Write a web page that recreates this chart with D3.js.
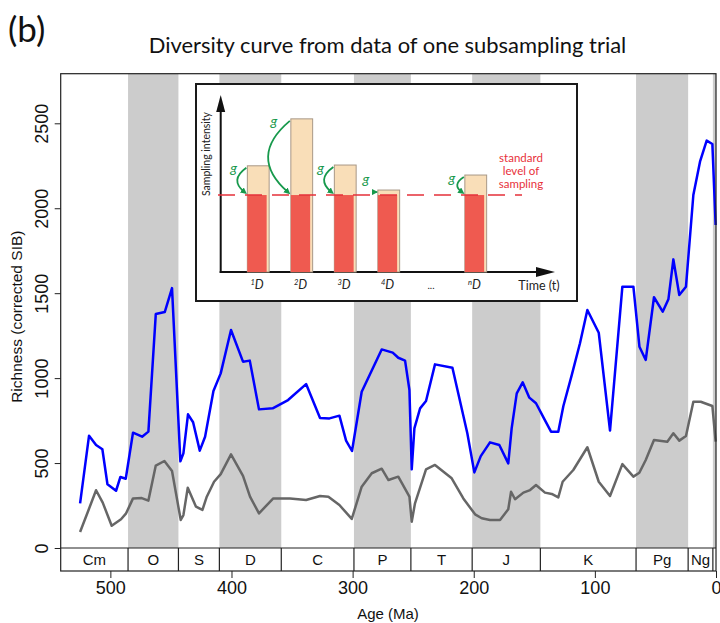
<!DOCTYPE html>
<html>
<head>
<meta charset="utf-8">
<script src="https://cdn.jsdelivr.net/npm/d3@7"></script>
<style>
  body { margin: 0; background: #fff; }
</style>
</head>
<body>
<div id="chart"></div>
<script>
// blue curve: richness from one subsampling trial (age in Ma, corrected SIB)
const trialAges = [525, 517.6, 511.8, 506.6, 502.4, 495.3, 491.7, 487.3, 481.3, 473.8, 468.6, 462.5, 455.1, 449.1,
    442.2, 439.7, 435.9, 431.7, 426.2, 421.8, 414.9, 408.9, 400.4, 390.5, 384.9, 377.3, 366, 353.3, 338.4, 326.9,
    319.1, 310.9, 305.4, 300.5, 292.5, 276, 266.9, 262.3, 256.7, 253.1, 251.2, 249, 244.3, 239.4, 232, 217.6, 205.3,
    199.5, 194.2, 186.6, 178.9, 171.5, 168.7, 164.5, 159.6, 154.1, 148.6, 141.7, 136.2, 130.2, 126, 119.1, 112.3,
    106.2, 96.8, 87.5, 77.3, 68.2, 63.2, 58, 51.2, 44, 39.3, 35.2, 30.3, 24.8, 18.7, 13.2, 7.7, 3, 0.3];
const trialRichness = [263, 661, 606, 581, 375, 337, 418, 408, 679, 655, 685, 1377, 1389, 1530,
    510, 557, 787, 740, 573, 655, 924, 1028, 1283, 1097, 1103, 816, 822, 871, 965, 765,
    763, 779, 632, 571, 920, 1169, 1150, 1120, 1103, 930, 463, 704, 822, 865, 1081, 1061, 675,
    445, 541, 622, 606, 498, 704, 910, 975, 885, 852, 759, 685, 685, 836, 1018, 1205,
    1401, 1267, 691, 1538, 1538, 1185, 1107, 1476, 1391, 1464, 1699, 1489, 1538, 2078, 2274, 2398, 2378, 1901];

// grey curve
const greyAges = [525, 518, 511.8, 506.3, 498.9, 491.2, 487, 481.3, 474.1, 468.6, 462.5, 455.4, 449.1, 441.9,
    439.7, 436.1, 429.3, 424, 420.4, 414.4, 408.9, 400.4, 390.5, 384.7, 377.3, 365.5, 351.7, 338.4, 326.9, 320,
    310.9, 300.7, 292.5, 284.2, 276, 270.4, 262.3, 253.1, 251.2, 248.5, 239.4, 232, 218.2, 208.6, 198.9, 193.4,
    186.6, 178.3, 171.5, 169.2, 165.9, 159, 153.5, 148.6, 141.2, 135.6, 130.2, 126.6, 117.8, 106.2, 96.8, 87.5,
    77.3, 68.2, 63.3, 58, 51.2, 40.2, 35.2, 30.3, 24.8, 18.7, 12.6, 3, 0.3];
const greyRichness = [94, 224, 340, 267, 131, 169, 204, 292, 294, 279, 485, 512, 453, 165,
    194, 355, 243, 224, 302, 390, 435, 551, 424, 302, 204, 292, 292, 283, 306, 302,
    253, 171, 361, 440, 467, 400, 420, 302, 155, 263, 463, 489, 410, 292, 198, 175,
    165, 165, 228, 331, 287, 326, 341, 371, 326, 318, 298, 390, 459, 593, 390, 306,
    494, 420, 443, 518, 636, 626, 675, 632, 659, 861, 861, 836, 626];

// geological periods (boundaries in Ma, as drawn)
const periodNames = ["Cm", "O", "S", "D", "C", "P", "T", "J", "K", "Pg", "Ng", ""];
const periodBounds = [541, 485.4, 443.8, 410, 358.9, 298.9, 251.9, 201.3, 145, 66, 23, 2.58, 0];

const yTicks = [0, 500, 1000, 1500, 2000, 2500];
const xTicks = [500, 400, 300, 200, 100, 0];

// inset: sampling intensity per time bin, relative to the standard level
const insetSlots = ["1", "2", "3", "4", "...", "n"];
const insetSampling = [1.38, 1.99, 1.39, 1.065, null, 1.26];
const standardLevel = 1;

const width = 720, height = 623;
const rFont = "'Liberation Sans', Arial, sans-serif";
const mFont = "Lato, 'Open Sans', sans-serif";

const svg = d3.select("#chart").append("svg")
    .attr("width", width)
    .attr("height", height)
    .style("font-family", rFont);

const plot = { left: 60.7, right: 716, top: 73.7, zero: 548, bottom: 571 };

const x = d3.scaleLinear().domain([541, 0]).range([plot.left, plot.right]);
const y = d3.scaleLinear().domain([0, 2500]).range([plot.zero, 123.3]);

const periods = periodNames.map((name, i) => ({ name, start: periodBounds[i], end: periodBounds[i + 1], i }));

//shaded bands for every second period
svg.append("g")
    .selectAll("rect")
    .data(periods.filter(d => d.i % 2 === 1))
    .join("rect")
    .attr("x", d => x(d.start))
    .attr("y", plot.top)
    .attr("width", d => x(d.end) - x(d.start))
    .attr("height", plot.zero - plot.top)
    .attr("fill", "#cccccc");

//curves
const line = d3.line().x(d => x(d[0])).y(d => y(d[1]));

svg.append("path")
    .datum(greyAges.map((a, i) => [a, greyRichness[i]]))
    .attr("d", line)
    .attr("fill", "none")
    .attr("stroke", "#666666")
    .attr("stroke-width", 2.5)
    .attr("stroke-linejoin", "round");

svg.append("path")
    .datum(trialAges.map((a, i) => [a, trialRichness[i]]))
    .attr("d", line)
    .attr("fill", "none")
    .attr("stroke", "#0000ff")
    .attr("stroke-width", 2.5)
    .attr("stroke-linejoin", "round");

//frame and period bar
svg.append("rect")
    .attr("x", plot.left)
    .attr("y", plot.top)
    .attr("width", plot.right - plot.left)
    .attr("height", plot.bottom - plot.top)
    .attr("fill", "none")
    .attr("stroke", "#222")
    .attr("stroke-width", 1.2);

svg.append("line")
    .attr("x1", plot.left).attr("x2", plot.right)
    .attr("y1", plot.zero).attr("y2", plot.zero)
    .attr("stroke", "#222").attr("stroke-width", 1.2);

const periodBar = svg.append("g");
periodBar.selectAll("line")
    .data(periodBounds.slice(1, -1))
    .join("line")
    .attr("x1", d => x(d)).attr("x2", d => x(d))
    .attr("y1", plot.zero).attr("y2", plot.bottom)
    .attr("stroke", "#222").attr("stroke-width", 1.2);

periodBar.selectAll("text")
    .data(periods.filter(d => d.name))
    .join("text")
    .attr("x", d => (x(d.start) + x(d.end)) / 2)
    .attr("y", (plot.zero + plot.bottom) / 2)
    .attr("dy", "0.36em")
    .attr("text-anchor", "middle")
    .attr("font-size", 15)
    .attr("fill", "#111")
    .text(d => d.name);

//axes
const yAxis = svg.append("g")
    .attr("transform", `translate(${plot.left},0)`)
    .call(d3.axisLeft(y).tickValues(yTicks).tickSize(6).tickFormat(d3.format("d")));
yAxis.select(".domain").remove();
yAxis.selectAll("line").attr("stroke", "#222");
yAxis.selectAll("text")
    .attr("x", null)
    .attr("dy", "0.36em")
    .attr("transform", `translate(${41.7 - plot.left},0) rotate(-90)`)
    .attr("text-anchor", "middle")
    .attr("font-size", 18)
    .attr("font-family", rFont)
    .attr("fill", "#111");

const xAxis = svg.append("g")
    .attr("transform", `translate(0,${plot.bottom})`)
    .call(d3.axisBottom(x).tickValues(xTicks).tickSize(7).tickFormat(d3.format("d")));
xAxis.select(".domain").remove();
xAxis.selectAll("line").attr("stroke", "#222");
xAxis.selectAll("text")
    .attr("font-size", 18)
    .attr("font-family", rFont)
    .attr("fill", "#111");

svg.append("text")
    .attr("x", 388)
    .attr("y", 619)
    .attr("text-anchor", "middle")
    .attr("font-size", 15)
    .attr("fill", "#111")
    .text("Age (Ma)");

svg.append("text")
    .attr("transform", "translate(16,316.7) rotate(-90)")
    .attr("dy", "0.36em")
    .attr("text-anchor", "middle")
    .attr("font-size", 15.5)
    .attr("fill", "#111")
    .text("Richness (corrected SIB)");

//title and panel letter
const title = svg.append("text")
    .attr("x", 387.5)
    .attr("y", 53)
    .attr("text-anchor", "middle")
    .attr("font-family", mFont)
    .attr("font-size", 20)
    .attr("fill", "#111")
    .text("Diversity curve from data of one subsampling trial");
let tw = title.node().getComputedTextLength();
title.attr("font-size", 20 * 478 / tw);

svg.append("text")
    .attr("x", 8)
    .attr("y", 42)
    .attr("font-family", mFont)
    .attr("font-size", 35)
    .attr("fill", "#111")
    .text("(b)");

//============================ INSET ============================//
const inset = svg.append("g").style("font-family", mFont);

inset.append("rect")
    .attr("x", 196).attr("y", 84)
    .attr("width", 381).attr("height", 217)
    .attr("fill", "#fff")
    .attr("stroke", "#1a1a1a")
    .attr("stroke-width", 2);

const ix = d3.scalePoint().domain(insetSlots).range([257, 474.5]);
const iy = d3.scaleLinear().domain([0, 2.3]).range([272, 95]);
const axisX0 = 220.7, axisXEnd = 555;

inset.append("line")
    .attr("x1", axisX0).attr("x2", axisX0)
    .attr("y1", iy(0) + 1).attr("y2", iy(2.3) + 14)
    .attr("stroke", "#111").attr("stroke-width", 2);
inset.append("path")
    .attr("d", `M${axisX0},${iy(2.3)} L${axisX0 - 4.5},${iy(2.3) + 17} L${axisX0 + 4.5},${iy(2.3) + 17} Z`)
    .attr("fill", "#111");
inset.append("line")
    .attr("x1", axisX0 - 1).attr("x2", axisXEnd - 14)
    .attr("y1", iy(0)).attr("y2", iy(0))
    .attr("stroke", "#111").attr("stroke-width", 2);
inset.append("path")
    .attr("d", `M${axisXEnd},${iy(0)} L${axisXEnd - 19},${iy(0) - 5} L${axisXEnd - 19},${iy(0) + 5} Z`)
    .attr("fill", "#111");

const barW = 19.3;
const bars = insetSlots.map((s, i) => ({ s, v: insetSampling[i] })).filter(d => d.v !== null);

inset.selectAll(".tan")
    .data(bars)
    .join("rect")
    .attr("class", "tan")
    .attr("x", d => ix(d.s) - barW / 2)
    .attr("y", d => iy(d.v))
    .attr("width", barW + 2.5)
    .attr("height", d => iy(0) - iy(d.v))
    .attr("fill", "#f9deb8")
    .attr("stroke", "#a89886")
    .attr("stroke-width", 1);

inset.selectAll(".red")
    .data(bars)
    .join("rect")
    .attr("class", "red")
    .attr("x", d => ix(d.s) - barW / 2)
    .attr("y", iy(standardLevel))
    .attr("width", barW)
    .attr("height", iy(0) - iy(standardLevel))
    .attr("fill", "#ef5a50");

inset.append("line")
    .attr("x1", 218).attr("x2", 522)
    .attr("y1", iy(standardLevel)).attr("y2", iy(standardLevel))
    .attr("stroke", "#e5303a")
    .attr("stroke-width", 1.5)
    .attr("stroke-dasharray", "17,10");

//green arrows from sampled level down to the standard level
inset.append("defs").append("marker")
    .attr("id", "garrow")
    .attr("viewBox", "0 0 10 10")
    .attr("refX", 5).attr("refY", 5)
    .attr("markerWidth", 3.6).attr("markerHeight", 3.6)
    .attr("orient", "auto")
    .append("path")
    .attr("d", "M0,0 L10,5 L0,10 Z")
    .attr("fill", "#17994c");

bars.forEach(d => {
    let left = ix(d.s) - barW / 2;
    let yA = iy(d.v) + 2;
    let yB = iy(standardLevel) - 3;
    let drop = yB - yA;
    let x0 = left - 1;
    let x1 = left - 3;
    let bulge = 0.27 * drop + 2;
    inset.append("path")
        .attr("d", `M${x0},${yA} Q${x0 - 2 * bulge},${(yA + yB) / 2} ${x1},${yB}`)
        .attr("fill", "none")
        .attr("stroke", "#17994c")
        .attr("stroke-width", 1.8)
        .attr("marker-end", "url(#garrow)");
    inset.append("text")
        .attr("x", left - 12 - 0.07 * drop)
        .attr("y", Math.min(iy(d.v) + 4, iy(standardLevel) - 15))
        .attr("dy", "0.25em")
        .attr("text-anchor", "middle")
        .attr("font-size", 14)
        .attr("font-style", "italic")
        .attr("fill", "#17994c")
        .text("g");
});

//bin labels
insetSlots.forEach(s => {
    let t = inset.append("text")
        .attr("x", ix(s))
        .attr("y", 289)
        .attr("text-anchor", "middle")
        .attr("fill", "#222")
        .attr("font-style", "italic");
    if (s === "...") {
        t.attr("font-size", 10).attr("font-style", "normal").text("...");
    } else {
        t.append("tspan").attr("font-size", 7.5).attr("dy", -4).text(s);
        t.append("tspan").attr("font-size", 12.5).attr("dy", 4).text("D");
    }
});

inset.append("text")
    .attr("x", 539)
    .attr("y", 290)
    .attr("text-anchor", "middle")
    .attr("font-size", 12.5)
    .attr("fill", "#222")
    .text("Time (t)");

inset.append("text")
    .attr("transform", "translate(206,154) rotate(-90)")
    .attr("dy", "0.35em")
    .attr("text-anchor", "middle")
    .attr("font-size", 10.5)
    .attr("fill", "#222")
    .text("Sampling intensity");

inset.append("text")
    .attr("text-anchor", "middle")
    .attr("font-size", 11.5)
    .attr("fill", "#e8303a")
    .selectAll("tspan")
    .data(["standard", "level of", "sampling"])
    .join("tspan")
    .attr("x", 521)
    .attr("y", (d, i) => 161.5 + i * 13.3)
    .text(d => d);
</script>
</body>
</html>
